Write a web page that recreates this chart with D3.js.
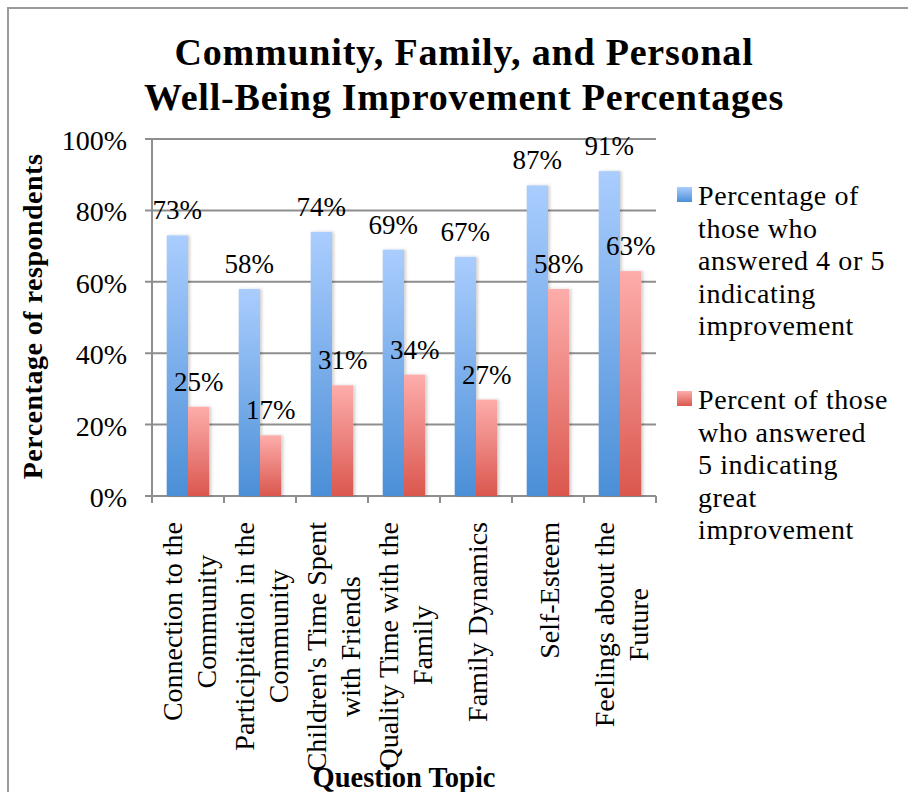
<!DOCTYPE html>
<html>
<head>
    <title>Well-Being Improvement Percentages</title>
    <script src="https://d3js.org/d3.v7.min.js"></script>
    <style>
        body { margin: 0; background: #fff; }
        svg { display: block; }
        text { font-family: "Liberation Serif", "DejaVu Serif", serif; fill: #000; }
    </style>
</head>
<body>
    <svg id="chart" width="908" height="792"></svg>

    <script>
        // chart data
        const categories = [
            ["Connection to the", "Community"],
            ["Participitation in the", "Community"],
            ["Children's Time Spent", "with Friends"],
            ["Quality Time with the", "Family"],
            ["Family Dynamics"],
            ["Self-Esteem"],
            ["Feelings about the", "Future"]
        ];
        const seriesNames = ["improved", "greatlyImproved"];
        const improved = [0.73, 0.58, 0.74, 0.69, 0.67, 0.87, 0.91];
        const greatlyImproved = [0.25, 0.17, 0.31, 0.34, 0.27, 0.58, 0.63];
        const yTicks = [0, 0.2, 0.4, 0.6, 0.8, 1.0];
        const legendLines = [
            ["Percentage of", "those who", "answered 4 or 5", "indicating", "improvement"],
            ["Percent of those", "who answered", "5 indicating", "great", "improvement"]
        ];
        const titleLines = ["Community, Family, and Personal", "Well-Being Improvement Percentages"];

        const svg = d3.select('#chart');
        const gridColor = '#8e8e8e';

        // plot area
        const plotLeft = 152, plotRight = 656, plotTop = 139, plotBottom = 496;

        const x = d3.scaleBand()
            .domain(d3.range(categories.length))
            .range([plotLeft, plotRight])
            .padding(0);

        const xs = d3.scaleBand()
            .domain(seriesNames)
            .range([14.7, x.bandwidth() - 14.7]);

        const y = d3.scaleLinear()
            .domain([0, 1])
            .range([plotBottom, plotTop]);

        // gradients for the bars
        const defs = svg.append('defs');
        const grads = {
            improved: ['#aacdfe', '#4b8fd7'],
            greatlyImproved: ['#fdadab', '#da574e']
        };
        Object.keys(grads).forEach(function (k) {
            const g = defs.append('linearGradient')
                .attr('id', 'grad-' + k)
                .attr('x1', 0).attr('y1', 0).attr('x2', 0).attr('y2', 1);
            g.append('stop').attr('offset', '0%').attr('stop-color', grads[k][0]);
            g.append('stop').attr('offset', '100%').attr('stop-color', grads[k][1]);
        });
        const shadow = defs.append('filter').attr('id', 'shadow')
            .attr('x', '-20%').attr('y', '-5%').attr('width', '150%').attr('height', '110%');
        shadow.append('feDropShadow')
            .attr('dx', 2).attr('dy', 0).attr('stdDeviation', 1.5)
            .attr('flood-color', '#000').attr('flood-opacity', 0.18);

        // outer border of the chart
        svg.append('rect')
            .attr('x', 8).attr('y', 8)
            .attr('width', 920).attr('height', 820)
            .attr('fill', 'none')
            .attr('stroke', '#9a9a9a')
            .attr('stroke-width', 2);

        // title
        svg.append('text')
            .attr('x', 464)
            .attr('text-anchor', 'middle')
            .style('font-size', '38px')
            .style('letter-spacing', '0.8px')
            .style('font-weight', 'bold')
            .selectAll('tspan')
            .data(titleLines)
            .enter()
            .append('tspan')
            .attr('x', 464)
            .attr('y', function (d, i) { return 65 + i * 45; })
            .text(function (d) { return d; });

        // horizontal gridlines with tick stubs
        svg.append('g')
            .selectAll('line')
            .data(yTicks)
            .enter()
            .append('line')
            .attr('x1', plotLeft - 7)
            .attr('x2', plotRight)
            .attr('y1', function (d) { return y(d); })
            .attr('y2', function (d) { return y(d); })
            .attr('stroke', gridColor)
            .attr('stroke-width', 2);

        // y axis line
        svg.append('line')
            .attr('x1', plotLeft).attr('x2', plotLeft)
            .attr('y1', plotTop).attr('y2', plotBottom + 7)
            .attr('stroke', gridColor)
            .attr('stroke-width', 2);

        // x tick marks at category boundaries
        svg.append('g')
            .selectAll('line')
            .data(d3.range(categories.length + 1))
            .enter()
            .append('line')
            .attr('x1', function (d) { return plotLeft + d * x.step(); })
            .attr('x2', function (d) { return plotLeft + d * x.step(); })
            .attr('y1', plotBottom)
            .attr('y2', plotBottom + 7)
            .attr('stroke', gridColor)
            .attr('stroke-width', 2);

        // y tick labels
        svg.append('g')
            .selectAll('text')
            .data(yTicks)
            .enter()
            .append('text')
            .attr('x', 127)
            .attr('y', function (d) { return y(d) + 11; })
            .attr('text-anchor', 'end')
            .style('font-size', '28px')
            .text(function (d) { return d3.format('.0%')(d); });

        // y axis title
        svg.append('text')
            .attr('transform', 'translate(42,' + ((plotTop + plotBottom) / 2 - 1) + ') rotate(-90)')
            .attr('text-anchor', 'middle')
            .style('font-size', '28px')
            .style('letter-spacing', '0.5px')
            .style('font-weight', 'bold')
            .text('Percentage of respondents');

        // bars
        const rows = categories.map(function (c, i) {
            return { i: i, values: [improved[i], greatlyImproved[i]] };
        });

        const groups = svg.append('g')
            .selectAll('g')
            .data(rows)
            .enter()
            .append('g')
            .attr('transform', function (d) { return 'translate(' + x(d.i) + ',0)'; });

        groups.selectAll('rect')
            .data(function (d) {
                return d.values.map(function (v, k) { return { key: seriesNames[k], value: v }; });
            })
            .enter()
            .append('rect')
            .attr('x', function (d) { return xs(d.key); })
            .attr('width', xs.bandwidth())
            .attr('y', function (d) { return y(d.value); })
            .attr('height', function (d) { return plotBottom - y(d.value); })
            .attr('fill', function (d) { return 'url(#grad-' + d.key + ')'; })
            .attr('filter', 'url(#shadow)');

        // value labels
        groups.selectAll('text')
            .data(function (d) {
                return d.values.map(function (v, k) { return { key: seriesNames[k], value: v }; });
            })
            .enter()
            .append('text')
            .attr('x', function (d) { return xs(d.key) + xs.bandwidth() / 2; })
            .attr('y', function (d) { return y(d.value) - 16; })
            .attr('text-anchor', 'middle')
            .style('font-size', '27px')
            .text(function (d) { return d3.format('.0%')(d.value); });

        // rotated category labels (lines centred, block top at y=522)
        const labelTop = 522, lineGap = 34;
        categories.forEach(function (lines, i) {
            const cx = x(i) + x.bandwidth() / 2;
            const g = svg.append('g')
                .attr('transform', 'translate(' + cx + ',0) rotate(-90)');
            const t = g.selectAll('text')
                .data(lines)
                .enter()
                .append('text')
                .attr('text-anchor', 'middle')
                .attr('y', function (d, k) { return (k - (lines.length - 1) / 2) * lineGap + 11; })
                .style('font-size', '28px')
                .text(function (d) { return d; });
            let w = 0;
            t.each(function () { w = Math.max(w, this.getComputedTextLength()); });
            t.attr('x', -(labelTop + w / 2));
        });

        // x axis title
        svg.append('text')
            .attr('x', (plotLeft + plotRight) / 2)
            .attr('y', 787)
            .attr('text-anchor', 'middle')
            .style('font-size', '28.5px')
            .style('font-weight', 'bold')
            .text('Question Topic');

        // legend
        const legend = svg.append('g');
        legendLines.forEach(function (lines, k) {
            const y0 = k === 0 ? 205 : 409;
            legend.append('rect')
                .attr('x', 677)
                .attr('y', y0 - 18)
                .attr('width', 15)
                .attr('height', 15)
                .attr('fill', 'url(#grad-' + seriesNames[k] + ')');
            legend.append('text')
                .style('font-size', '28px')
                .style('letter-spacing', '0.6px')
                .selectAll('tspan')
                .data(lines)
                .enter()
                .append('tspan')
                .attr('x', 698)
                .attr('y', function (d, i) { return y0 + i * 32.5; })
                .text(function (d) { return d; });
        });
    </script>
</body>
</html>
